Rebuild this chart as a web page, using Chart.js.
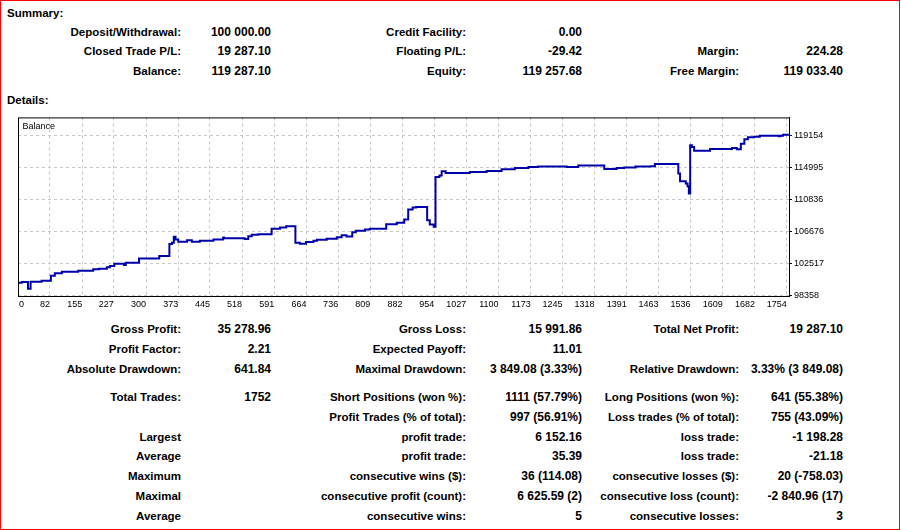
<!DOCTYPE html>
<html>
<head>
<meta charset="utf-8">
<title>Strategy Tester Report</title>
<script src="https://cdn.jsdelivr.net/npm/chart.js@4.4.1/dist/chart.umd.min.js"></script>
<style>
  html, body { margin: 0; padding: 0; background: #fff; }
  body { width: 901px; height: 530px; position: relative; overflow: hidden; font-family: "Liberation Sans", Arial, sans-serif; }
  #frame { position: absolute; left: 0; top: 0; width: 900px; height: 530px; border: 1px solid #ff0000; box-sizing: border-box; }
  .c { position: absolute; font-weight: bold; font-size: 12px; line-height: 14px; white-space: nowrap; color: #000; }
  .c.lab { font-size: 11.5px; }
  #wrap { position: absolute; left: 0; top: 110px; width: 901px; height: 210px; }
</style>
</head>
<body>
<div id="frame"></div>
<div id="texts"></div>
<div id="wrap"><canvas id="balanceChart" width="901" height="210"></canvas></div>

<script>
// Eixo X (número da operação) e eixo Y (saldo)
const xTicks = [0, 82, 155, 227, 300, 373, 445, 518, 591, 664, 736, 809, 882, 954, 1027,
  1100, 1173, 1245, 1318, 1391, 1463, 1536, 1609, 1682, 1754];
const yTicks = [98358, 102517, 106676, 110836, 114995, 119154];

// Curva de saldo: operação onde o saldo muda e o novo saldo
const tradeNo = [10, 18, 32, 38, 63, 84, 93, 109, 146, 180, 193, 211, 218, 228, 250, 254,
  284, 330, 353, 359, 363, 367, 373, 393, 404, 422, 453, 475, 477, 524, 532, 540, 555,
  585, 604, 618, 639, 649, 663, 680, 688, 710, 733, 744, 755, 768, 776, 797, 808, 845,
  869, 886, 895, 905, 913, 938, 944, 953, 957, 966, 971, 980, 1035, 1073, 1107, 1137,
  1168, 1190, 1255, 1281, 1340, 1368, 1385, 1411, 1445, 1455, 1508, 1512, 1525, 1529,
  1532, 1535, 1539, 1544, 1580, 1630, 1641, 1650, 1658, 1666, 1680, 1693, 1736, 1740,
  1746, 1759];
const balance = [100000, 100090, 99220, 100120, 100260, 100910, 101220, 101430, 101560,
  101740, 101820, 102000, 102170, 102465, 102300, 102595, 103167, 103466, 105026, 105194,
  105974, 105636, 105324, 105545, 105324, 105454, 105636, 105896, 105805, 105680, 106065,
  106234, 106325, 107014, 107196, 107365, 105194, 105064, 105285, 105454, 105584, 105715,
  105935, 106195, 106026, 106585, 106754, 106936, 107014, 107625, 107794, 108236, 109535,
  109795, 109873, 108145, 107586, 107274, 113772, 113954, 114513, 114292, 114423, 114552,
  114773, 114942, 115072, 115124, 115072, 115254, 114812, 114942, 114994, 115124, 115163,
  115462, 114214, 113213, 112915, 112564, 111615, 117893, 117672, 117204, 117412, 117542,
  117373, 118113, 118672, 118932, 119023, 119153, 119062, 119153, 119283, 119283];

const X_MIN = 9.4, X_MAX = 1759.3;
const Y_MIN = 98267, Y_MAX = 121532;

// Textos do relatório: [y, [texto, borda direita], ...]
const rows = [
  [32, ["Deposit/Withdrawal:", 181], ["100 000.00", 271], ["Credit Facility:", 466], ["0.00", 582]],
  [51, ["Closed Trade P/L:", 181], ["19 287.10", 271], ["Floating P/L:", 466], ["-29.42", 582], ["Margin:", 739], ["224.28", 843]],
  [71, ["Balance:", 181], ["119 287.10", 271], ["Equity:", 466], ["119 257.68", 582], ["Free Margin:", 739], ["119 033.40", 843]],
  [329, ["Gross Profit:", 181], ["35 278.96", 271], ["Gross Loss:", 466], ["15 991.86", 582], ["Total Net Profit:", 739], ["19 287.10", 843]],
  [349, ["Profit Factor:", 181], ["2.21", 271], ["Expected Payoff:", 466], ["11.01", 582]],
  [369, ["Absolute Drawdown:", 181], ["641.84", 271], ["Maximal Drawdown:", 466], ["3 849.08 (3.33%)", 582], ["Relative Drawdown:", 739], ["3.33% (3 849.08)", 843]],
  [397, ["Total Trades:", 181], ["1752", 271], ["Short Positions (won %):", 466], ["1111 (57.79%)", 582], ["Long Positions (won %):", 739], ["641 (55.38%)", 843]],
  [417, ["Profit Trades (% of total):", 466], ["997 (56.91%)", 582], ["Loss trades (% of total):", 739], ["755 (43.09%)", 843]],
  [437, ["Largest", 181], ["", 271], ["profit trade:", 466], ["6 152.16", 582], ["loss trade:", 739], ["-1 198.28", 843]],
  [456, ["Average", 181], ["", 271], ["profit trade:", 466], ["35.39", 582], ["loss trade:", 739], ["-21.18", 843]],
  [476, ["Maximum", 181], ["", 271], ["consecutive wins ($):", 466], ["36 (114.08)", 582], ["consecutive losses ($):", 739], ["20 (-758.03)", 843]],
  [496, ["Maximal", 181], ["", 271], ["consecutive profit (count):", 466], ["6 625.59 (2)", 582], ["consecutive loss (count):", 739], ["-2 840.96 (17)", 843]],
  [516, ["Average", 181], ["", 271], ["consecutive wins:", 466], ["5", 582], ["consecutive losses:", 739], ["3", 843]]
];

let html = `<div class="c lab" style="left:7px;top:6px">Summary:</div>` +
  `<div class="c lab" style="left:7px;top:93px">Details:</div>`;
rows.forEach(([y, ...cells]) => {
  cells.forEach(([text, right], i) => {
    if (!text) return;
    const cls = i % 2 === 0 ? "c lab" : "c";
    html += `<div class="${cls}" style="top:${y - 7}px;right:${901 - right}px">${text}</div>`;
  });
});
document.getElementById("texts").innerHTML = html;

// Moldura preta do gráfico e o rótulo "Balance"
const boxPlugin = {
  id: "box",
  afterDraw(chart) {
    const { ctx, chartArea: a } = chart;
    ctx.save();
    ctx.strokeStyle = "#000";
    ctx.lineWidth = 1;
    ctx.strokeRect(a.left + 0.5, a.top + 0.5, a.right - a.left, a.bottom - a.top);
    ctx.fillStyle = "#000";
    ctx.font = "9px 'Liberation Sans', Arial, sans-serif";
    ctx.textBaseline = "middle";
    ctx.fillText("Balance", a.left + 4.5, a.top + 9);
    ctx.restore();
  }
};

const tickFont = { family: "'Liberation Sans', Arial, sans-serif", size: 9 };

new Chart(document.getElementById("balanceChart"), {
  type: "line",
  data: {
    datasets: [{
      label: "Balance",
      data: tradeNo.map((x, i) => ({ x: x, y: balance[i] })),
      borderColor: "#0000aa",
      borderWidth: 2,
      pointRadius: 0,
      stepped: "before",
      fill: false
    }]
  },
  options: {
    responsive: false,
    animation: false,
    layout: { padding: { left: 18, top: 7, right: 0, bottom: 0 } },
    plugins: { legend: { display: false }, tooltip: { enabled: false } },
    scales: {
      x: {
        type: "linear",
        min: X_MIN,
        max: X_MAX,
        afterBuildTicks: (s) => {
          // o rótulo "0" fica colado à borda esquerda
          s.ticks = xTicks.map((v) => ({ value: Math.max(v, X_MIN + 13.6) }));
        },
        afterFit: (s) => { s.height = 24; },
        grid: { color: (c) => (c.index === 0 ? "rgba(0,0,0,0)" : "#c8c8c8"), drawTicks: false },
        border: { display: true, color: "#000", dash: [3, 3] },
        ticks: {
          callback: (v, i) => String(xTicks[i]),
          align: "end",
          padding: 3,
          maxRotation: 0,
          autoSkip: false,
          color: "#000",
          font: tickFont
        }
      },
      y: {
        position: "right",
        min: Y_MIN,
        max: Y_MAX,
        afterBuildTicks: (s) => { s.ticks = yTicks.map((v) => ({ value: v })); },
        afterFit: (s) => { s.width = 112; },
        grid: { color: "#c8c8c8", tickLength: 3, tickColor: "#000" },
        border: { display: true, color: "#000", dash: [3, 3] },
        ticks: {
          callback: (v) => String(v),
          padding: 2,
          color: "#000",
          font: tickFont
        }
      }
    }
  },
  plugins: [boxPlugin]
});
</script>
</body>
</html>
